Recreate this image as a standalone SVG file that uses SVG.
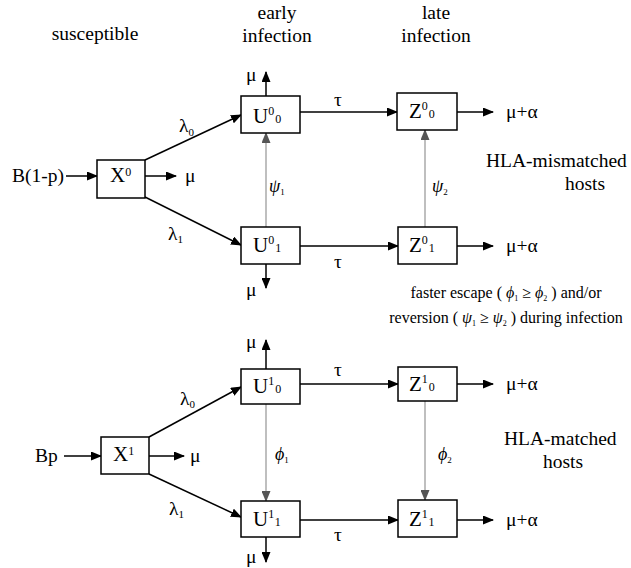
<svg xmlns="http://www.w3.org/2000/svg" width="631" height="568" viewBox="0 0 631 568" font-family="'Liberation Serif', 'Times New Roman', serif">
<style>
svg{font-family:'Liberation Serif','Times New Roman',serif}
text{font-family:'Liberation Serif','Times New Roman',serif}
.t{font-size:19.5px;fill:#000}
.m{text-anchor:middle}
.g{font-style:italic;font-size:18px}
.s{font-size:16px}
.bl{font-size:21px;fill:#000}
.box{fill:#fff;stroke:#000;stroke-width:1.5}
.ln{fill:none;stroke:#000;stroke-width:1.5;marker-end:url(#ah)}
.gl{fill:none;stroke:#8a8a8a;stroke-width:1.1;marker-end:url(#gah)}
</style>
<defs>
<marker id="ah" markerUnits="userSpaceOnUse" markerWidth="11" markerHeight="9" refX="10" refY="4.5" orient="auto"><path d="M0,0L11,4.5L0,9z" fill="#000"/></marker>
<marker id="gah" markerUnits="userSpaceOnUse" markerWidth="11" markerHeight="9" refX="10" refY="4.5" orient="auto"><path d="M0,0L11,4.5L0,9z" fill="#555"/></marker>
</defs>
<rect width="631" height="568" fill="#fff"/>
<g id="headers">
<text class="t m" x="95" y="40">susceptible</text>
<text class="t m" x="277" y="19">early</text>
<text class="t m" x="277" y="42">infection</text>
<text class="t m" x="436" y="19">late</text>
<text class="t m" x="436" y="42">infection</text>
</g>
<g id="connectors">
<path class="ln" d="M66,176H97"/>
<path class="ln" d="M145,176H176"/>
<path class="ln" d="M145,160L241,115"/>
<path class="ln" d="M145,197L241,245"/>
<path class="ln" d="M266,96V72"/>
<path class="ln" d="M300,112H397"/>
<path class="ln" d="M457,112H493"/>
<path class="ln" d="M300,246H398"/>
<path class="ln" d="M457,246H493"/>
<path class="ln" d="M266,264V288"/>
<path class="gl" d="M266,227V133"/>
<path class="gl" d="M425,227V130"/>
<path class="ln" d="M64,456H101"/>
<path class="ln" d="M149,456H184"/>
<path class="ln" d="M149,437L241,387"/>
<path class="ln" d="M149,474L241,517"/>
<path class="ln" d="M266,369V340"/>
<path class="ln" d="M300,384H398"/>
<path class="ln" d="M457,384H493"/>
<path class="ln" d="M300,520H398"/>
<path class="ln" d="M457,520H493"/>
<path class="ln" d="M266,537V562"/>
<path class="gl" d="M266,404V501"/>
<path class="gl" d="M425,401V500"/>
</g>
<g id="X0">
<rect class="box" x="97" y="160" width="48" height="38"/>
<text class="bl" x="110" y="182">X<tspan font-size="12" dy="-6">0</tspan></text>
</g>
<g id="U00">
<rect class="box" x="241" y="96" width="59" height="37"/>
<text class="bl" x="253" y="123">U<tspan font-size="12" dy="-8">0</tspan><tspan font-size="12" dy="8" dx="1">0</tspan></text>
</g>
<g id="Z00">
<rect class="box" x="397" y="93" width="60" height="37"/>
<text class="bl" x="409" y="118">Z<tspan font-size="12" dy="-8">0</tspan><tspan font-size="12" dy="8" dx="1">0</tspan></text>
</g>
<g id="U01">
<rect class="box" x="241" y="227" width="59" height="37"/>
<text class="bl" x="253" y="252">U<tspan font-size="12" dy="-8">0</tspan><tspan font-size="12" dy="8" dx="1">1</tspan></text>
</g>
<g id="Z01">
<rect class="box" x="398" y="227" width="59" height="37"/>
<text class="bl" x="409" y="252">Z<tspan font-size="12" dy="-8">0</tspan><tspan font-size="12" dy="8" dx="1">1</tspan></text>
</g>
<g id="X1">
<rect class="box" x="101" y="437" width="48" height="37"/>
<text class="bl" x="113" y="461">X<tspan font-size="12" dy="-6">1</tspan></text>
</g>
<g id="U10">
<rect class="box" x="241" y="369" width="59" height="35"/>
<text class="bl" x="253" y="393">U<tspan font-size="12" dy="-8">1</tspan><tspan font-size="12" dy="8" dx="1">0</tspan></text>
</g>
<g id="Z10">
<rect class="box" x="398" y="367" width="59" height="34"/>
<text class="bl" x="409" y="391">Z<tspan font-size="12" dy="-8">1</tspan><tspan font-size="12" dy="8" dx="1">0</tspan></text>
</g>
<g id="U11">
<rect class="box" x="241" y="501" width="59" height="36"/>
<text class="bl" x="253" y="526">U<tspan font-size="12" dy="-8">1</tspan><tspan font-size="12" dy="8" dx="1">1</tspan></text>
</g>
<g id="Z11">
<rect class="box" x="398" y="500" width="59" height="37"/>
<text class="bl" x="409" y="526">Z<tspan font-size="12" dy="-8">1</tspan><tspan font-size="12" dy="8" dx="1">1</tspan></text>
</g>
<g id="labels">
<text class="t" x="12" y="182">B(1-p)</text>
<text class="t" x="185" y="182">μ</text>
<text class="t" x="179" y="132" font-size="17">λ<tspan font-size="11" dy="4">0</tspan></text>
<text class="t" x="168" y="240" font-size="17">λ<tspan font-size="11" dy="3">1</tspan></text>
<text class="t" x="246" y="81">μ</text>
<text class="t" x="334" y="106">τ</text>
<text class="t" x="506" y="118">μ+α</text>
<text class="t g" x="269" y="192">ψ<tspan font-style="normal" font-size="9" dy="3">1</tspan></text>
<text class="t g" x="432" y="192">ψ<tspan font-style="normal" font-size="9" dy="3">2</tspan></text>
<text class="t" x="246" y="296">μ</text>
<text class="t" x="334" y="268">τ</text>
<text class="t" x="506" y="252">μ+α</text>
<text class="t" x="486" y="167">HLA-mismatched</text>
<text class="t" x="565" y="190">hosts</text>
<text class="t s m" x="506" y="298">faster escape ( <tspan font-style="italic">ϕ</tspan><tspan font-size="8" dy="3">1</tspan><tspan dy="-3"> ≥ </tspan><tspan font-style="italic">ϕ</tspan><tspan font-size="8" dy="3">2</tspan><tspan dy="-3"> ) and/or</tspan></text>
<text class="t s m" x="506" y="323">reversion ( <tspan font-style="italic">ψ</tspan><tspan font-size="8" dy="3">1</tspan><tspan dy="-3"> ≥ </tspan><tspan font-style="italic">ψ</tspan><tspan font-size="8" dy="3">2</tspan><tspan dy="-3"> ) during infection</tspan></text>
<text class="t" x="35" y="462">Bp</text>
<text class="t" x="190" y="462">μ</text>
<text class="t" x="180" y="405" font-size="17">λ<tspan font-size="11" dy="3">0</tspan></text>
<text class="t" x="169" y="515" font-size="17">λ<tspan font-size="11" dy="3">1</tspan></text>
<text class="t" x="246" y="348">μ</text>
<text class="t" x="334" y="376">τ</text>
<text class="t" x="506" y="390">μ+α</text>
<text class="t g" x="275" y="460">ϕ<tspan font-style="normal" font-size="9" dy="3">1</tspan></text>
<text class="t g" x="438" y="460">ϕ<tspan font-style="normal" font-size="9" dy="3">2</tspan></text>
<text class="t" x="504" y="445">HLA-matched</text>
<text class="t" x="543" y="468">hosts</text>
<text class="t" x="246" y="563">μ</text>
<text class="t" x="334" y="541">τ</text>
<text class="t" x="506" y="526">μ+α</text>
</g>
</svg>
